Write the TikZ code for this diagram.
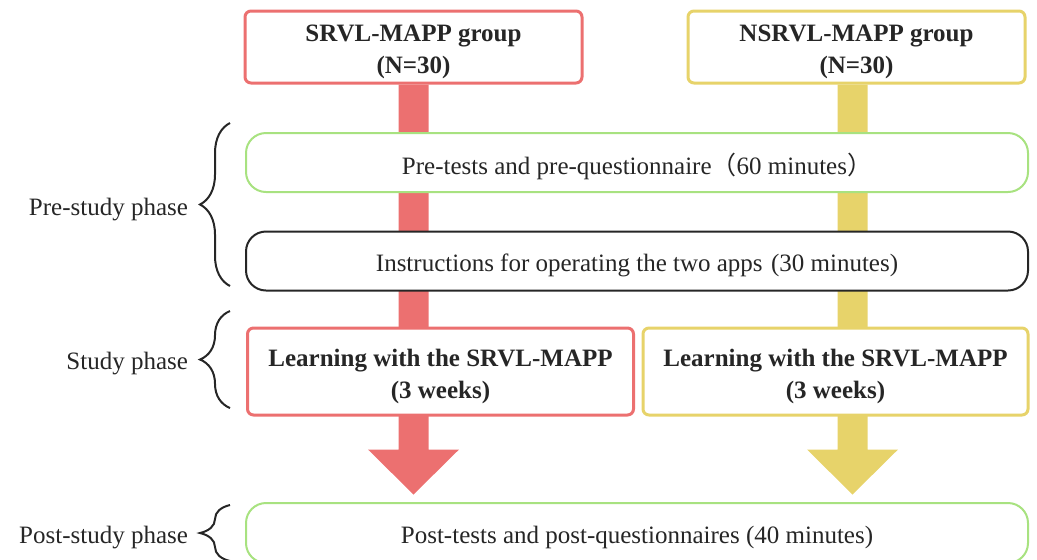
\documentclass[tikz,border=0pt]{standalone}
\usepackage{fontspec}
\setmainfont{Liberation Serif}
\newfontfamily\cjkfont{Noto Sans CJK SC}
\usetikzlibrary{calc,backgrounds,decorations.pathreplacing}
\definecolor{grpred}{RGB}{236,112,112}
\definecolor{grpyellow}{RGB}{231,211,106}
\definecolor{stepgreen}{RGB}{168,226,128}
\definecolor{txtdark}{RGB}{38,38,38}
\newcommand\lowstrut{\rule{0pt}{13.5pt}}
\begin{document}
\begin{tikzpicture}[x=0.5pt, y=-0.5pt,
  every node/.style={font=\fontsize{12.5}{16}\selectfont, text=txtdark, align=center},
  lowtext/.style={execute at begin node={\rule{0pt}{#1}}},
  lowtext/.default=13.5pt,
  grpbox/.style={draw, line width=1.5pt, fill=white, rounded corners=3pt, inner ysep=0.5pt, minimum width=168.5pt, minimum height=36pt, font=\bfseries\fontsize{12.5}{16}\selectfont},
  learnbox/.style={grpbox, minimum width=193pt, minimum height=43.5pt},
  stagebox/.style={draw, fill=white, rounded corners=10pt, minimum width=391pt, minimum height=29.5pt, lowtext},
  phasebrace/.style={draw=txtdark, line width=1pt, decorate, decoration={brace, amplitude=15pt}},
  phaselabel/.style={anchor=east, lowtext}]
\useasboundingbox (0,0) rectangle (1037,559);
\node[grpbox, draw=grpred] (srvl) at (413.5,47) {\lowstrut SRVL-MAPP group\\(N=30)};
\node[grpbox, draw=grpyellow] (nsrvl) at (856.5,47) {\lowstrut NSRVL-MAPP group\\(N=30)};
\node[stagebox, draw=stepgreen, line width=1pt, lowtext=15pt] (pre) at (637,162.5) {Pre-tests and pre-questionnaire{\cjkfont （}60 minutes{\cjkfont ）}};
\node[stagebox, draw=txtdark, line width=1pt] (instr) at (637,261) {Instructions for operating the two apps\,\,(30 minutes)};
\node[learnbox, draw=grpred] (learnA) at (440.5,371.5) {\lowstrut Learning with the SRVL-MAPP\\(3 weeks)};
\node[learnbox, draw=grpyellow, minimum width=192.5pt] (learnB) at (835.5,371.5) {\lowstrut Learning with the SRVL-MAPP\\(3 weeks)};
\node[stagebox, draw=stepgreen, line width=1pt, minimum height=30pt] (post) at (637,533) {Post-tests and post-questionnaires (40 minutes)};
\coordinate (tipA) at ($(srvl.south)+(0,410)$);
\coordinate (tipB) at ($(nsrvl.south)+(-4,410)$);
\begin{pgfonlayer}{background}
\fill[grpred] ($(srvl.south)+(-15,0)$) -- ($(tipA)+(-15,-45)$) -- ($(tipA)+(-45.5,-45)$) -- (tipA) -- ($(tipA)+(45.5,-45)$) -- ($(tipA)+(15,-45)$) -- ($(srvl.south)+(15,0)$) -- cycle;
\fill[grpyellow] ($(nsrvl.south)+(-19,0)$) -- ($(tipB)+(-15,-45)$) -- ($(tipB)+(-45.5,-45)$) -- (tipB) -- ($(tipB)+(45.5,-45)$) -- ($(tipB)+(15,-45)$) -- ($(nsrvl.south)+(11,0)$) -- cycle;
\end{pgfonlayer}
\coordinate (preTop) at (230,123);
\coordinate (preBot) at (230,286);
\coordinate (studyTop) at (230,311);
\coordinate (studyBot) at (230,408);
\coordinate (postTop) at (230,505);
\coordinate (postBot) at (230,561);
\draw[phasebrace] (preBot) -- (preTop);
\draw[phasebrace] (studyBot) -- (studyTop);
\draw[phasebrace] (postBot) -- (postTop);
\node[phaselabel] (prelab) at (195,205) {Pre-study phase};
\node[phaselabel] (studylab) at (195,359) {Study phase};
\node[phaselabel] (postlab) at (195,533) {Post-study phase};
\end{tikzpicture}
\end{document}
